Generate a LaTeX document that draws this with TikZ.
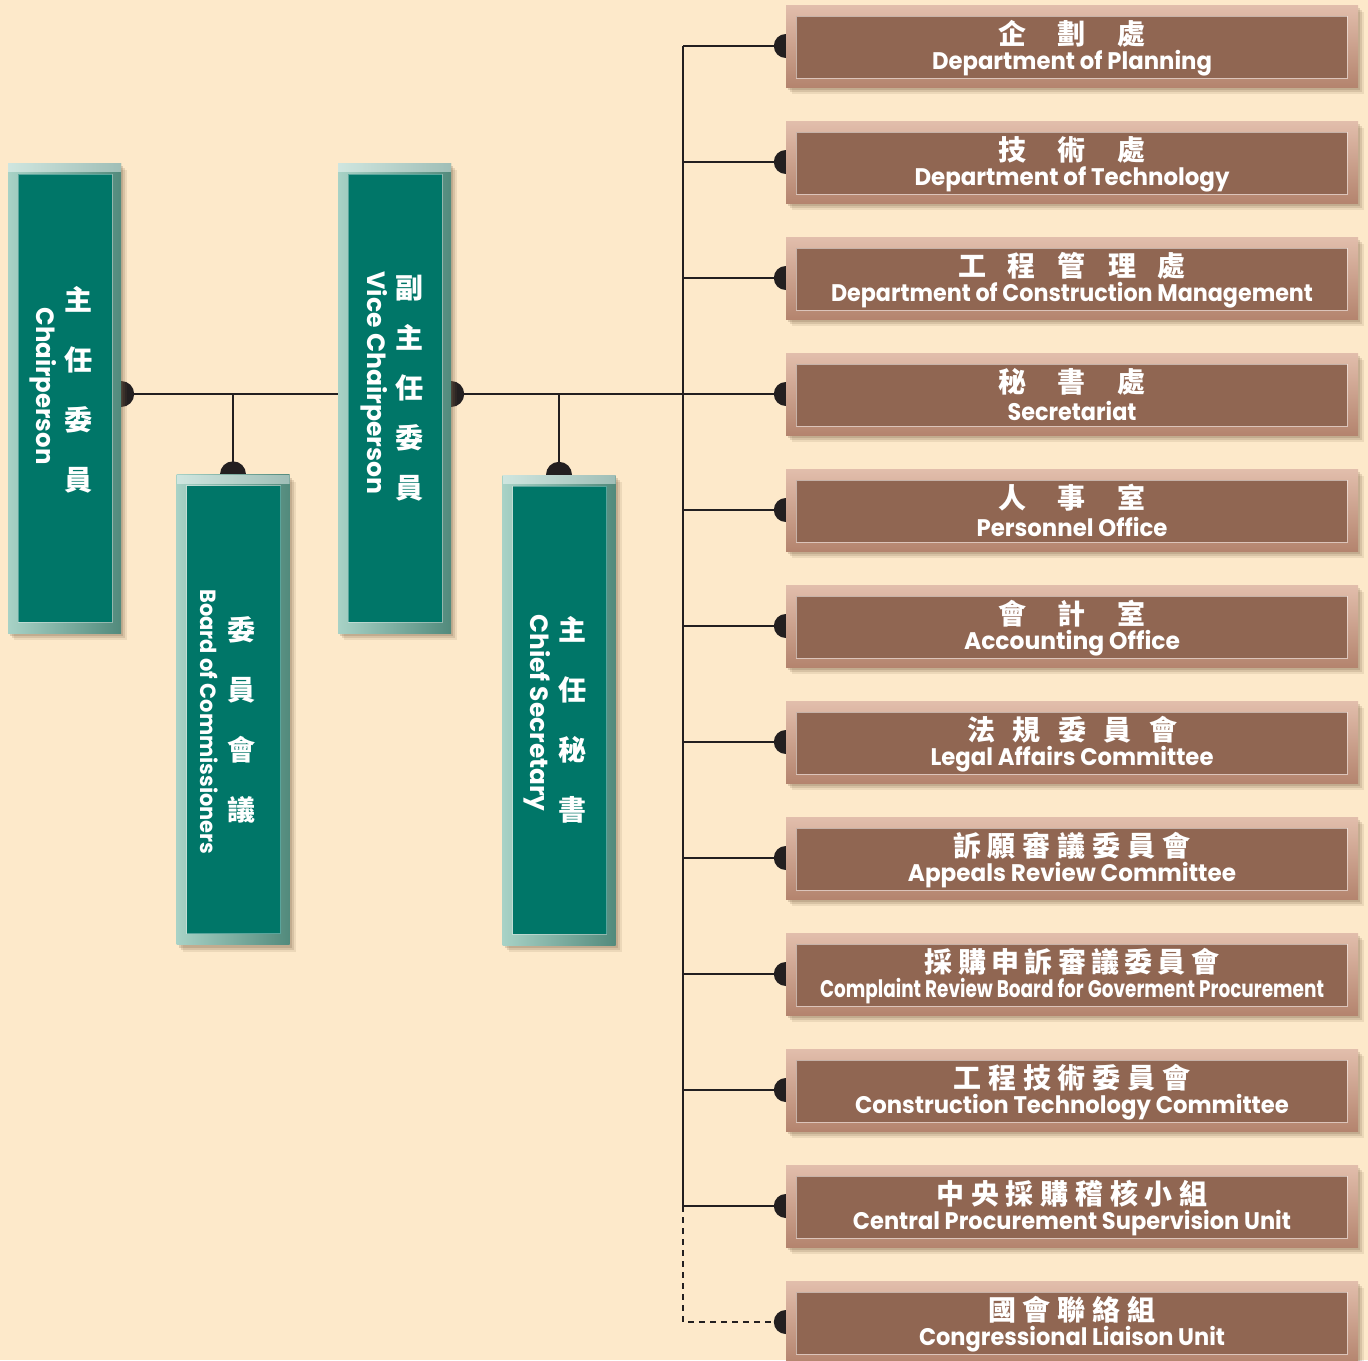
\documentclass[tikz,border=0pt]{standalone}
\usepackage{fontspec}
\usepackage{graphicx}
\usetikzlibrary{shadows}
\newfontfamily\cjk{Noto Sans CJK TC}
\newfontfamily\eng{Poppins}
\definecolor{bgc}{RGB}{253,233,202}
\definecolor{tealin}{RGB}{0,118,104}
\definecolor{tealL}{RGB}{168,210,198}
\definecolor{tealD}{RGB}{82,138,124}
\definecolor{brin}{RGB}{144,102,82}
\definecolor{brL}{RGB}{226,190,172}
\definecolor{brD}{RGB}{180,132,110}
\definecolor{linec}{RGB}{35,31,32}
\definecolor{shad}{RGB}{120,95,70}
\newcommand\spaced[2]{\def\spw{#1}\expandafter\spacedloop#2\relax}
\def\spacedloop#1{\ifx\relax#1\else\makebox[\spw]{#1}\expandafter\spacedloop\fi}
\newcommand\fitw[2]{\resizebox{#1}{\height}{#2}}
\pgfdeclarelayer{back}\pgfdeclarelayer{lines}\pgfsetlayers{back,lines,main}
\tikzset{
  softshadow/.style={
    drop shadow={shadow xshift=6pt, shadow yshift=-7pt, opacity=.12, fill=shad},
    drop shadow={shadow xshift=4pt, shadow yshift=-5pt, opacity=.18, fill=shad},
    drop shadow={shadow xshift=2pt, shadow yshift=-3pt, opacity=.22, fill=shad}},
  tealbox/.style={rectangle, inner sep=0pt, minimum width=113pt, minimum height=470pt,
    softshadow, left color=tealL, right color=tealD,
    path picture={
      \fill[white,opacity=.45] (path picture bounding box.north west) rectangle ([yshift=-9pt]path picture bounding box.north east);
      \fill[tealin] ([shift={(10pt,-11pt)}]path picture bounding box.north west) rectangle ([shift={(-9pt,11pt)}]path picture bounding box.south east);
      \draw[white,opacity=.35,line width=1pt] ([shift={(10pt,-11pt)}]path picture bounding box.north west) rectangle ([shift={(-9pt,11pt)}]path picture bounding box.south east);
    }},
  brownbox/.style={rectangle, inner sep=0pt, minimum width=572pt, minimum height=82pt,
    softshadow, top color=brL, bottom color=brD,
    path picture={
      \fill[brin] ([shift={(10pt,-11pt)}]path picture bounding box.north west) rectangle ([shift={(-11pt,9pt)}]path picture bounding box.south east);
      \draw[white,opacity=.5,line width=1pt] ([shift={(10pt,-11pt)}]path picture bounding box.north west) rectangle ([shift={(-11pt,9pt)}]path picture bounding box.south east);
    }},
  conn/.style={draw=linec, line width=2.2pt},
  dotc/.style={fill=linec},
  cnt/.style={text=white, inner sep=0pt, font=\cjk\bfseries\fontsize{28}{28}\selectfont},
  ent/.style={text=white, inner sep=0pt, font=\eng\bfseries\fontsize{24}{24}\selectfont},
  cnv/.style={text=white, inner sep=0pt, text width=40pt, align=center},
}
\begin{document}
\begin{tikzpicture}[x=1pt,y=-1pt]
\useasboundingbox (0,0) rectangle (1368,1360);
\begin{pgfonlayer}{back}
\fill[bgc] (0,0) rectangle (1368,1360);
\end{pgfonlayer}

% teal boxes
\node[tealbox] (chair) at (64.5,398) {};
\node[tealbox] (vice) at (394.5,398) {};
\node[tealbox] (board) at (233,709.5) {};
\node[tealbox] (chief) at (559,710) {};

\node[cnv, font=\cjk\bfseries\fontsize{28}{60}\selectfont] (chaircn) at (78,390) {主\\任\\委\\員};
\node[ent, rotate=-90, font=\eng\bfseries\fontsize{25}{25}\selectfont] (chairen) at (43,386) {\fitw{157pt}{Chairperson}};
\node[cnv, font=\cjk\bfseries\fontsize{28}{50}\selectfont] (vicecn) at (409,388) {副\\主\\任\\委\\員};
\node[ent, rotate=-90, font=\eng\bfseries\fontsize{25}{25}\selectfont] (viceen) at (374,383) {\fitw{223pt}{Vice Chairperson}};
\node[cnv, font=\cjk\bfseries\fontsize{28}{60}\selectfont] (boardcn) at (241,720) {委\\員\\會\\議};
\node[ent, rotate=-90, font=\eng\bfseries\fontsize{22}{22}\selectfont] (boarden) at (209,722) {\fitw{265pt}{Board of Commissioners}};
\node[cnv, font=\cjk\bfseries\fontsize{28}{60}\selectfont] (chiefcn) at (572,720) {主\\任\\秘\\書};
\node[ent, rotate=-90, font=\eng\bfseries\fontsize{25}{25}\selectfont] (chiefen) at (537,713) {\fitw{197pt}{Chief Secretary}};

% brown boxes
\foreach \i/\s/\c/\w/\e in {
  1/60/企劃處/280/Department of Planning,
  2/60/技術處/315/Department of Technology,
  3/50/工程管理處/482/Department of Construction Management,
  4/60/秘書處/129/Secretariat,
  5/60/人事室/191/Personnel Office,
  6/60/會計室/216/Accounting Office,
  7/45.5/法規委員會/283/Legal Affairs Committee,
  8/35/訴願審議委員會/328/Appeals Review Committee,
  9/33.3/採購申訴審議委員會/504/Complaint Review Board for Goverment Procurement,
  10/34.7/工程技術委員會/434/Construction Technology Committee,
  11/34.7/中央採購稽核小組/438/Central Procurement Supervision Unit,
  12/35/國會聯絡組/306/Congressional Liaison Unit}{
  \pgfmathsetmacro\yy{46+116*(\i-1)}
  \node[brownbox] (b\i) at (1072,\yy) {};
  \node[cnt] (b\i cn) at ([yshift=12pt]b\i.center) {\spaced{\s pt}{\c}};
  \node[ent] (b\i en) at ([yshift=-17pt]b\i.center) {\fitw{\w pt}{\e}};
}

\coordinate (trunk) at (683,0);
\begin{pgfonlayer}{lines}
\draw[conn] (chair.east |- b4.west) -- (vice.west |- b4.west);
\draw[conn] (vice.east |- b4.west) -- (b4.west);
\draw[conn] (board.north) -- (board.north |- b4.west);
\draw[conn] (chief.north) -- (chief.north |- b4.west);
\fill[dotc] (chair.east |- b4.west) circle (13pt);
\fill[dotc] (vice.east |- b4.west) circle (13pt);
\fill[dotc] (board.north) circle (13pt);
\fill[dotc] (chief.north) circle (13pt);
\draw[conn] (b1.west -| trunk) -- (b11.west -| trunk);
\foreach \i in {1,...,11}{
  \draw[conn] (b\i.west -| trunk) -- (b\i.west);
  \fill[dotc] (b\i.west) circle (12pt);
}
\draw[conn, dash pattern=on 6pt off 5pt] (b11.west -| trunk) |- (b12.west);
\fill[dotc] (b12.west) circle (12pt);
\end{pgfonlayer}
\end{tikzpicture}
\end{document}
